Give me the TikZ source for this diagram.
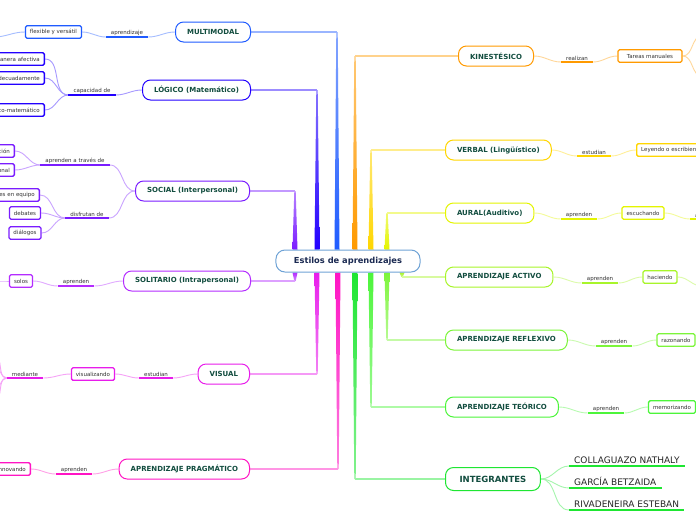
\documentclass[tikz,border=0pt]{standalone}
\usepackage{fontspec}
\setmainfont{DejaVu Sans}
\usetikzlibrary{calc,positioning,backgrounds}
\definecolor{cC}{HTML}{6FA3D6}
\definecolor{cRt}{HTML}{1B2A52}
\definecolor{cTx}{HTML}{124D3F}
\definecolor{cSub}{HTML}{333333}
\definecolor{cMM}{HTML}{1F5BFF}
\definecolor{cLO}{HTML}{2200FF}
\definecolor{cSO}{HTML}{7A1CFF}
\definecolor{cSI}{HTML}{B42CFF}
\definecolor{cVI}{HTML}{E81CEB}
\definecolor{cPR}{HTML}{FF14C4}
\definecolor{cKI}{HTML}{FF9A00}
\definecolor{cVE}{HTML}{FFD600}
\definecolor{cAU}{HTML}{E4F500}
\definecolor{cAC}{HTML}{A8F52A}
\definecolor{cRE}{HTML}{7CF53A}
\definecolor{cTE}{HTML}{4CF53A}
\definecolor{cIN}{HTML}{1EE632}
\begin{document}
\begin{tikzpicture}[x=1pt, y=-1pt,
  root/.style={draw=cC, line width=1pt, rounded corners=9pt, fill=white, minimum height=22pt, inner xsep=18pt, text=cRt, font=\bfseries\fontsize{8.3}{10}\selectfont},
  main/.style={draw=#1, line width=1pt, rounded corners=8pt, fill=white, minimum height=20pt, inner xsep=11.5pt, text=cTx, font=\bfseries\fontsize{7}{8}\selectfont},
  box/.style={draw=#1, line width=1.3pt, rounded corners=1.5pt, fill=white, minimum height=12.5pt, inner xsep=4.5pt, inner ysep=1pt, text=cSub, font=\fontsize{5.5}{6.5}\selectfont},
  lbl/.style={inner xsep=5pt, inner ysep=1.5pt, anchor=south, text=cSub, font=\fontsize{5.5}{6.5}\selectfont},
  mem/.style={inner xsep=5pt, inner ysep=2pt, text=black!85, font=\fontsize{9}{10}\selectfont},
  cc/.style={draw=#1!40, line width=0.9pt},
  ul/.style={draw=#1, line width=1.8pt}]
\useasboundingbox (0,0) rectangle (696,520);
\node[root] (c) at (348,261) {Estilos de aprendizajes};
% left branches
\node[main=cMM, anchor=east] (mm) at (251,32) {MULTIMODAL};
\node[main=cLO, anchor=east] (lo) at (251,90) {LÓGICO (Matemático)};
\node[main=cSO, anchor=east] (so) at (250,191) {SOCIAL (Interpersonal)};
\node[main=cSI, anchor=east] (si) at (251,281) {SOLITARIO (Intrapersonal)};
\node[main=cVI, anchor=east] (vi) at (250,374) {VISUAL};
\node[main=cPR, anchor=east] (pr) at (250,469) {APRENDIZAJE PRAGMÁTICO};
% right branches
\node[main=cKI, anchor=west] (ki) at (458,56) {KINESTÉSICO};
\node[main=cVE, anchor=west] (ve) at (445,150) {VERBAL (Lingüístico)};
\node[main=cAU, anchor=west] (au) at (445,213) {AURAL(Auditivo)};
\node[main=cAC, anchor=west] (ac) at (445,277) {APRENDIZAJE ACTIVO};
\node[main=cRE, anchor=west] (re) at (445,340) {APRENDIZAJE REFLEXIVO};
\node[main=cTE, anchor=west] (te) at (445,407) {APRENDIZAJE TEÓRICO};
\node[main=cIN, anchor=west, minimum height=23pt, inner xsep=14pt, font=\bfseries\fontsize{8.5}{10}\selectfont] (ig) at (445,479) {INTEGRANTES};
% left leaves
\node[lbl] (lMM) at (127,37) {aprendizaje};
\node[box=cMM] (flx) at (53.5,32) {flexible y versátil};
\node[lbl] (lLO) at (92,95) {capacidad de};
\node[box=cLO, anchor=east, text width=60pt, align=right] (lo1) at (45,59) {manera afectiva};
\node[box=cLO, anchor=east, text width=60pt, align=right] (lo2) at (45,78) {adecuadamente};
\node[box=cLO, anchor=east, text width=60pt, align=right] (lo3) at (45,110) {co-matemático};
\node[lbl] (lS1) at (75,165) {aprenden a través de};
\node[lbl] (lS2) at (87,218) {disfrutan de};
\node[box=cSO, anchor=east, text width=30pt, align=right] (so1) at (15,151) {ción};
\node[box=cSO, anchor=east, text width=30pt, align=right] (so2) at (15,170) {onal};
\node[box=cSO, anchor=east, text width=50pt, align=right] (so3) at (40,195) {les en equipo};
\node[box=cSO] (so4) at (25,213) {debates};
\node[box=cSO] (so5) at (25,233) {diálogos};
\node[lbl] (lSI) at (76,286) {aprenden};
\node[box=cSI] (si1) at (21,281) {solos};
\node[lbl] (lVI) at (156,378) {estudian};
\node[box=cVI] (vi1) at (93,374) {visualizando};
\node[lbl] (lVI2) at (25,378) {mediante};
\node[lbl] (lPR) at (74,474) {aprenden};
\node[box=cPR, anchor=east, text width=40pt, align=right] (pr1) at (31,469) {innovando};
% right leaves
\node[lbl] (lKI) at (577,62) {realizan};
\node[box=cKI, minimum width=64pt] (ki1) at (650,56) {Tareas manuales};
\node[lbl] (lVE) at (594,156) {estudian};
\node[box=cVE, anchor=west] (ve1) at (636,150) {Leyendo o escribiendo};
\node[lbl] (lAU) at (579,219) {aprenden};
\node[box=cAU] (au1) at (643,213) {escuchando};
\node[lbl, anchor=south west] (lAU2) at (690,219) {a través de};
\node[lbl] (lAC) at (600,283) {aprenden};
\node[box=cAC] (ac1) at (660,277) {haciendo};
\node[lbl] (lRE) at (614,346) {aprenden};
\node[box=cRE] (re1) at (676,340) {razonando};
\node[lbl] (lTE) at (606,413) {aprenden};
\node[box=cTE] (te1) at (672,407) {memorizando};
\node[mem, anchor=south west] (m1) at (569,466) {COLLAGUAZO NATHALY};
\node[mem, anchor=south west] (m2) at (569,488) {GARCÍA BETZAIDA};
\node[mem, anchor=south west] (m3) at (569,510) {RIVADENEIRA ESTEBAN};
% free ends
\coordinate (eMM) at (-6,37);
\coordinate (eSI) at (-6,281);
\coordinate (eV1) at (-6,356);
\coordinate (eV2) at (-6,366);
\coordinate (eV3) at (-6,390);
\coordinate (eV4) at (-6,400);
\coordinate (eK1) at (702,36);
\coordinate (eK2) at (702,76);
\coordinate (eAC) at (702,286);
\begin{scope}[on background layer]
\fill[white] (0,0) rectangle (696,520);
% trunks
\foreach \n/\col/\kx/\a/\t/\u in {mm/cMM/337/north/55/100, lo/cLO/317/north/55/100, so/cSO/295/north/55/100,
  si/cSI/295/south/100/55, vi/cVI/317/south/100/55, pr/cPR/338/south/100/55,
  ki/cKI/355/north/55/100, ve/cVE/371/north/55/100, au/cAU/387/north/55/100,
  ac/cAC/402/south/100/55, re/cRE/387/south/100/55, te/cTE/371/south/100/55, ig/cIN/355/south/100/55}{
  \coordinate (k) at (\kx,0);
  \coordinate (b) at (c.\a -| k);
  \coordinate (e) at (\n -| k);
  \shade[top color=\col!\t, bottom color=\col!\u] ([xshift=-2.5pt]b) -- ([xshift=2.5pt]b) -- ([xshift=0.7pt]e) -- ([xshift=-0.7pt]e) -- cycle;
  \draw[\col!45, line width=1.2pt] (e) -- (\n);
}
\foreach \i/\j/\k in {mm.west/lMM.south east/cMM, lMM.south west/flx.east/cMM, flx.west/eMM/cMM,
  lo.west/lLO.south east/cLO, lLO.south west/lo1.east/cLO, lLO.south west/lo2.east/cLO, lLO.south west/lo3.east/cLO,
  so.west/lS1.south east/cSO, so.west/lS2.south east/cSO, lS1.south west/so1.east/cSO, lS1.south west/so2.east/cSO,
  lS2.south west/so3.east/cSO, lS2.south west/so4.east/cSO, lS2.south west/so5.east/cSO,
  si.west/lSI.south east/cSI, lSI.south west/si1.east/cSI, si1.west/eSI/cSI,
  vi.west/lVI.south east/cVI, lVI.south west/vi1.east/cVI, vi1.west/lVI2.south east/cVI,
  lVI2.south west/eV1/cVI, lVI2.south west/eV2/cVI, lVI2.south west/eV3/cVI, lVI2.south west/eV4/cVI,
  pr.west/lPR.south east/cPR, lPR.south west/pr1.east/cPR}
  {\draw[cc=\k] (\i) to[out=180,in=0] (\j);}
\foreach \i/\j/\k in {ki.east/lKI.south west/cKI, lKI.south east/ki1.west/cKI, ki1.east/eK1/cKI, ki1.east/eK2/cKI,
  ve.east/lVE.south west/cVE, lVE.south east/ve1.west/cVE,
  au.east/lAU.south west/cAU, lAU.south east/au1.west/cAU, au1.east/lAU2.south west/cAU,
  ac.east/lAC.south west/cAC, lAC.south east/ac1.west/cAC, ac1.east/eAC/cAC,
  re.east/lRE.south west/cRE, lRE.south east/re1.west/cRE,
  te.east/lTE.south west/cTE, lTE.south east/te1.west/cTE,
  ig.east/m1.south west/cIN, ig.east/m2.south west/cIN, ig.east/m3.south west/cIN}
  {\draw[cc=\k] (\i) to[out=0,in=180] (\j);}
\end{scope}
% underlines
\foreach \l/\k in {lMM/cMM, lLO/cLO, lS1/cSO, lS2/cSO, lSI/cSI, lVI/cVI, lVI2/cVI, lPR/cPR, lKI/cKI, lVE/cVE,
  lAU/cAU, lAU2/cAU, lAC/cAC, lRE/cRE, lTE/cTE, m1/cIN, m2/cIN, m3/cIN}
  {\draw[ul=\k] (\l.south west) -- (\l.south east);}
\end{tikzpicture}
\end{document}
